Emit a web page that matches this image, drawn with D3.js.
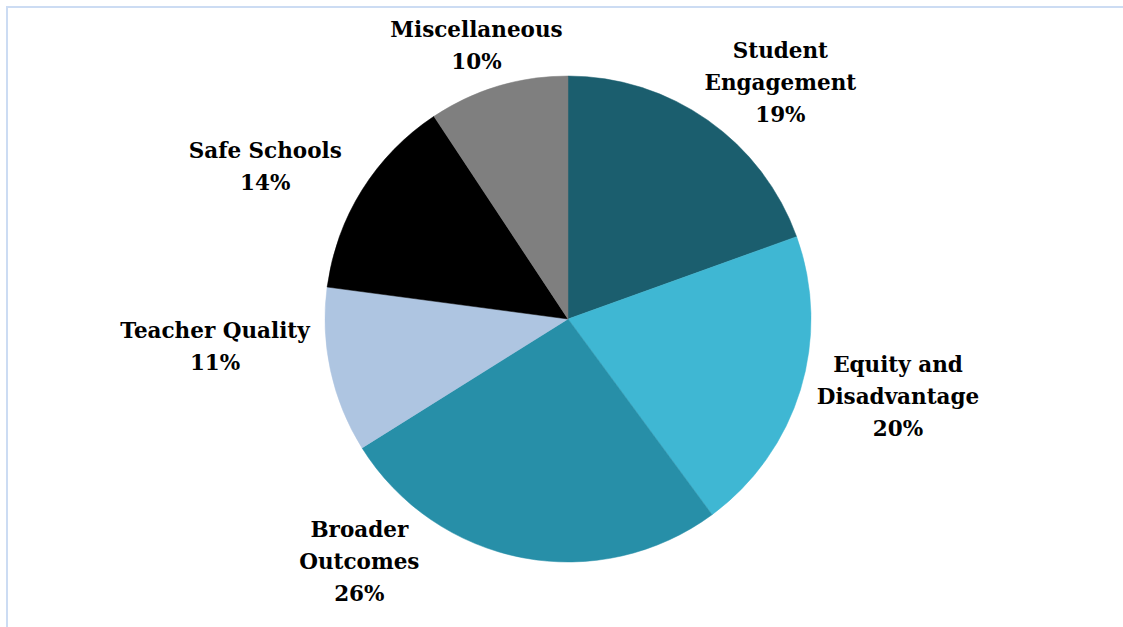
<!DOCTYPE html>
<html>
<head>
<meta charset="utf-8">
<script src="https://cdn.jsdelivr.net/npm/d3@7"></script>
<style>
  html, body { margin: 0; padding: 0; background: #ffffff; }
  svg { display: block; }
</style>
</head>
<body>
<svg id="chart" width="1123" height="627"></svg>
<script>
// ---- Data ----
const categories = ["Student Engagement", "Equity and Disadvantage", "Broader Outcomes", "Teacher Quality", "Safe Schools", "Miscellaneous"];
const labelLines = [["Student", "Engagement"], ["Equity and", "Disadvantage"], ["Broader", "Outcomes"], ["Teacher Quality"], ["Safe Schools"], ["Miscellaneous"]];
const shares = [19.5, 20.4, 26.2, 11.0, 13.6, 9.3];
const percentLabels = ["19%", "20%", "26%", "11%", "14%", "10%"];

// ---- Layout / style ----
const colors = ["#1b5e6e", "#3fb7d3", "#278fa8", "#aec5e1", "#000000", "#7f7f7f"];
const W = 1123, H = 627;
const cx = 568, cy = 319, R = 243;
// label placement: polar (angle offset from slice mid-angle in degrees, radius)
const labelPolar = [
  { dAngle: 6.8, r: 318 },
  { dAngle: -3.7, r: 339 },
  { dAngle: 29.9, r: 320 },
  { dAngle: 7.8, r: 354 },
  { dAngle: -5.3, r: 339 },
  { dAngle: -1.8, r: 288 }
];
const lineH = 32;

const svg = d3.select("#chart");

// outer border (only top/left visible)
svg.append("rect")
  .attr("x", 7).attr("y", 7)
  .attr("width", W + 20).attr("height", H + 20)
  .attr("fill", "none")
  .attr("stroke", "#ccdcf3")
  .attr("stroke-width", 2);

const data = categories.map((c, i) => ({ name: c, value: shares[i], lines: labelLines[i], pct: percentLabels[i], color: colors[i] }));

const pie = d3.pie().value(d => d.value).sort(null).startAngle(0).endAngle(2 * Math.PI);
const arcs = pie(data);
const arc = d3.arc().innerRadius(0).outerRadius(R);

const g = svg.append("g").attr("transform", `translate(${cx},${cy})`);

g.selectAll("path.slice")
  .data(arcs)
  .join("path")
  .attr("class", "slice")
  .attr("d", arc)
  .attr("fill", d => d.data.color)
  .attr("stroke", d => d.data.color)
  .attr("stroke-width", 0.5);

g.selectAll("text.lbl")
  .data(arcs)
  .join("text")
  .attr("class", "lbl")
  .attr("text-anchor", "middle")
  .attr("font-family", "'DejaVu Serif', serif")
  .attr("font-weight", "bold")
  .attr("font-size", "21.5px")
  .attr("fill", "#000")
  .each(function(d, i) {
    const mid = (d.startAngle + d.endAngle) / 2 + labelPolar[i].dAngle * Math.PI / 180;
    const r = labelPolar[i].r;
    const x = Math.sin(mid) * r;
    const y = -Math.cos(mid) * r;
    const lines = d.data.lines.concat([d.data.pct]);
    const n = lines.length;
    const t = d3.select(this);
    lines.forEach((ln, k) => {
      t.append("tspan")
        .attr("x", x)
        .attr("y", y + (k - (n - 1) / 2) * lineH)
        .attr("dy", "0.35em")
        .text(ln);
    });
  });
</script>
</body>
</html>
